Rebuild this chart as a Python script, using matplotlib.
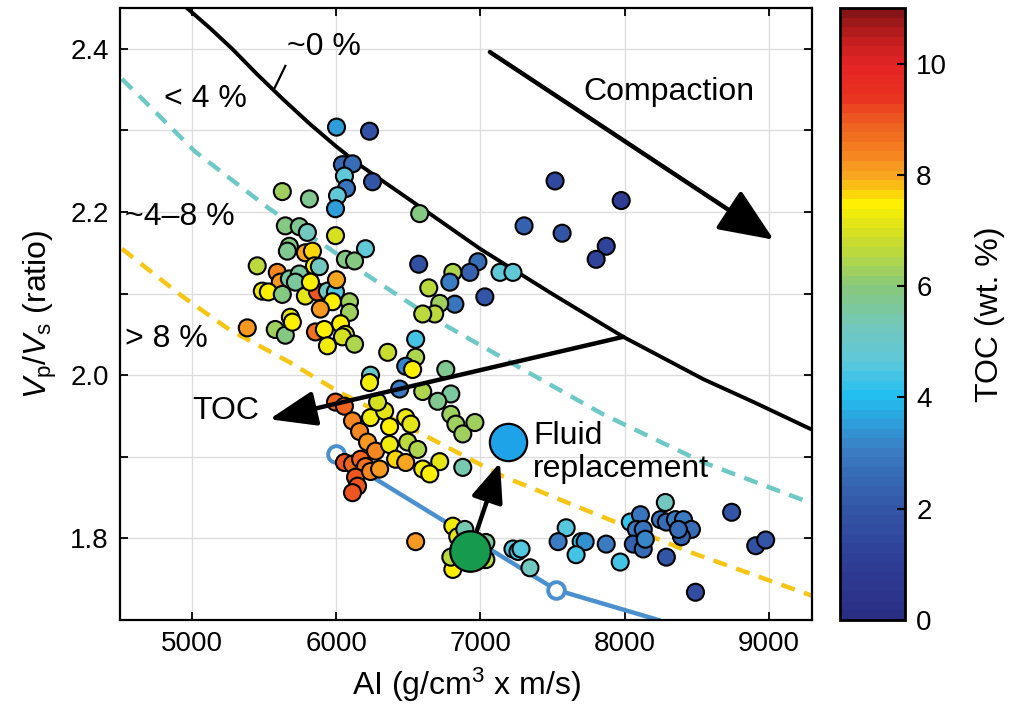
import numpy as np
import matplotlib
matplotlib.use("Agg")
import matplotlib.pyplot as plt
from matplotlib.colors import LinearSegmentedColormap, ListedColormap, Normalize

plt.rcParams["font.family"] = ["Liberation Sans", "DejaVu Sans"]
plt.rcParams["mathtext.fontset"] = "custom"
plt.rcParams["mathtext.rm"] = "Liberation Sans"
plt.rcParams["mathtext.it"] = "Liberation Sans:italic"

# ---- sample measurements: acoustic impedance, Vp/Vs, TOC ----
ai = [6002, 6231, 6043, 6113, 6057, 6071, 6252, 6009, 5995, 5626,
      5814, 5647, 5744, 5800, 5675, 5661, 5995, 6203, 6064, 6127,
      5786, 5835, 5849, 5883, 5452, 5591, 5612, 5675, 5744, 5717,
      5487, 5529, 5626, 5786, 5870, 5939, 5995, 6002, 5821, 5974,
      5890, 6092, 6092, 5383, 5577, 5647, 5682, 5696, 5856, 5918,
      6030, 6064, 6043, 6127, 5939, 6579, 6572, 6983, 6927, 6809,
      7136, 7226, 6788, 6642, 7031, 6823, 6718, 6683, 6600, 6551,
      6357, 6551, 6482, 6530, 6760, 6238, 6231, 6440, 6600, 6795,
      6704, 6795, 6830, 6878, 6962, 5995, 6057, 6113, 6162, 6238,
      6336, 6287, 6370, 6482, 6517, 6217, 6273, 6370, 6496, 6565,
      6718, 6600, 6649, 6878, 6412, 6482, 6057, 6113, 6169, 6203,
      6134, 6148, 6113, 6238, 6301, 6551, 6809, 6843, 6892, 6809,
      6795, 7038, 7038, 7226, 7261, 7282, 7344, 7595, 7539, 7699,
      7727, 7664, 7873, 7970, 8040, 8110, 8082, 8130, 8061, 8130,
      8144, 8283, 8249, 8290, 8353, 8409, 8464, 8395, 8374, 8290,
      8492, 8743, 8910, 8979, 7518, 7977, 7303, 7567, 7873, 7803]
vpvs = [2.304, 2.299, 2.258, 2.259, 2.244, 2.229, 2.237, 2.220, 2.204, 2.225,
        2.216, 2.183, 2.182, 2.175, 2.158, 2.152, 2.171, 2.155, 2.142, 2.140,
        2.150, 2.152, 2.134, 2.133, 2.134, 2.126, 2.114, 2.118, 2.124, 2.114,
        2.103, 2.102, 2.099, 2.097, 2.102, 2.103, 2.102, 2.117, 2.114, 2.090,
        2.081, 2.090, 2.077, 2.058, 2.056, 2.049, 2.071, 2.065, 2.053, 2.056,
        2.063, 2.050, 2.047, 2.038, 2.036, 2.198, 2.136, 2.139, 2.126, 2.126,
        2.126, 2.126, 2.114, 2.107, 2.096, 2.087, 2.088, 2.075, 2.075, 2.044,
        2.028, 2.022, 2.011, 2.007, 2.007, 2.000, 1.991, 1.983, 1.980, 1.977,
        1.968, 1.952, 1.940, 1.928, 1.942, 1.967, 1.962, 1.944, 1.931, 1.948,
        1.956, 1.967, 1.937, 1.948, 1.940, 1.918, 1.907, 1.915, 1.918, 1.909,
        1.894, 1.885, 1.879, 1.887, 1.897, 1.893, 1.893, 1.891, 1.897, 1.888,
        1.875, 1.864, 1.856, 1.882, 1.885, 1.796, 1.815, 1.802, 1.811, 1.762,
        1.777, 1.795, 1.774, 1.787, 1.784, 1.787, 1.764, 1.813, 1.796, 1.796,
        1.796, 1.780, 1.793, 1.771, 1.820, 1.829, 1.811, 1.811, 1.793, 1.787,
        1.799, 1.844, 1.823, 1.820, 1.823, 1.823, 1.811, 1.802, 1.811, 1.777,
        1.734, 1.832, 1.791, 1.798, 2.238, 2.214, 2.183, 2.174, 2.158, 2.142]
toc = [3.6, 1.8, 2.5, 2.7, 4.8, 2.8, 2.0, 4.8, 3.6, 6.2,
       5.7, 6.0, 5.8, 5.2, 6.0, 5.8, 6.9, 4.8, 5.9, 6.0,
       8.0, 7.6, 7.5, 5.3, 6.6, 8.4, 8.2, 5.5, 5.6, 5.6,
       7.3, 7.5, 6.0, 7.2, 9.0, 5.2, 4.5, 8.0, 7.4, 7.4,
       8.1, 6.2, 6.3, 8.1, 6.2, 6.0, 7.2, 7.4, 8.7, 7.4,
       7.4, 7.2, 7.0, 6.5, 7.3, 6.0, 1.8, 2.6, 2.4, 6.5,
       4.8, 4.8, 3.0, 6.6, 1.9, 2.9, 6.3, 6.6, 6.6, 4.3,
       6.8, 6.4, 3.2, 7.4, 5.7, 5.0, 7.3, 3.0, 6.4, 5.6,
       5.7, 6.3, 6.3, 6.2, 6.2, 8.8, 8.8, 8.4, 8.3, 7.3,
       7.2, 7.0, 7.4, 7.3, 7.1, 8.2, 8.3, 7.3, 6.6, 6.5,
       7.1, 7.3, 7.4, 5.4, 7.6, 8.0, 9.0, 8.9, 8.9, 8.6,
       9.0, 9.0, 9.0, 8.4, 8.2, 8.1, 7.3, 7.2, 5.4, 7.4,
       6.6, 5.5, 6.7, 4.6, 4.4, 4.5, 5.2, 4.5, 3.0, 4.2,
       3.3, 4.3, 3.0, 4.3, 4.2, 2.8, 3.0, 2.9, 2.4, 2.6,
       3.2, 5.2, 2.8, 2.6, 3.0, 3.0, 2.7, 2.4, 2.6, 1.9,
       1.7, 1.9, 1.8, 2.0, 1.5, 1.0, 2.3, 2.0, 1.3, 1.3]

# ---- rock-physics template curves ----
toc0_ai = [4951, 5120, 5278, 5450, 5626, 5810, 5995, 6160, 6322, 6600,
           6997, 7504, 7991, 8548, 8896, 9327]
toc0_vpvs = [2.452, 2.426, 2.400, 2.369, 2.339, 2.309, 2.281, 2.258, 2.238, 2.204,
             2.155, 2.099, 2.047, 1.995, 1.967, 1.931]
toc4_ai = [4513, 4652, 5021, 5536, 5953, 6203, 6649, 7296, 7852, 8548, 9313]
toc4_vpvs = [2.363, 2.339, 2.274, 2.204, 2.155, 2.124, 2.072, 2.007, 1.952, 1.893, 1.842]
toc8_ai = [4513, 4930, 5257, 5675, 6023, 6530, 7157, 7713, 8457, 9313]
toc8_vpvs = [2.155, 2.097, 2.056, 2.016, 1.979, 1.934, 1.876, 1.836, 1.783, 1.729]
trend_ai = [5995, 7525, 8235]
trend_vpvs = [1.903, 1.737, 1.700]

# fluid replacement: brine-saturated (green) -> substituted (blue)
fluid_start = (6927, 1.784)
fluid_end = (7191, 1.918)

# ---- colour scale ----
anchors = [(0.0, "#2b2f84"), (1.0, "#2e3e97"), (2.0, "#3358a8"), (3.0, "#3a7cc2"),
           (4.0, "#22bff0"), (4.6, "#5cc8dc"), (5.2, "#72c8c0"), (6.0, "#86c87e"),
           (6.6, "#b8d840"), (7.0, "#d6e020"), (7.5, "#fff000"), (8.0, "#f8a820"),
           (8.5, "#f58020"), (9.0, "#ee6020"), (9.5, "#e83020"), (10.0, "#e62525"),
           (10.5, "#c41e1e"), (11.0, "#881515")]
vmax = 11.0
base = LinearSegmentedColormap.from_list(
    "toc", [(v / vmax, c) for v, c in anchors])
cmap = ListedColormap(base(np.linspace(0, 1, 64)))
norm = Normalize(0, vmax)

fig = plt.figure(figsize=(10.10, 7.19), dpi=100)
ax = fig.add_axes([0.1188, 0.1377, 0.6851, 0.8512])
cax = fig.add_axes([0.8317, 0.1377, 0.0644, 0.8512])

ax.set_xlim(4500, 9300)
ax.set_ylim(1.7, 2.45)
ax.set_xticks([5000, 6000, 7000, 8000, 9000])
yt = [1.7, 1.8, 1.9, 2.0, 2.1, 2.2, 2.3, 2.4]
ax.set_yticks(yt)
ax.set_yticklabels(["" if round(v * 10) % 2 else f"{v:.1f}" for v in yt])
ax.grid(True, color="#dddddd", lw=1.0, zorder=0)
ax.set_axisbelow(True)
ax.tick_params(direction="in", length=6, width=1.3, top=True, right=True,
               labelsize=20, pad=8)
for s in ax.spines.values():
    s.set_linewidth(1.6)

ax.plot(toc0_ai, toc0_vpvs, color="black", lw=2.8, zorder=2,
        solid_joinstyle="round")
ax.plot(toc4_ai, toc4_vpvs, color="#6dc8c6", lw=3.2, ls=(0, (3.2, 2.2)), zorder=2)
ax.plot(toc8_ai, toc8_vpvs, color="#f7c514", lw=3.2, ls=(0, (3.2, 2.2)), zorder=2)
ax.plot(trend_ai, trend_vpvs, color="#4a90cf", lw=3.2, zorder=2)
ax.plot(trend_ai[:2], trend_vpvs[:2], ls="none", marker="o", ms=12,
        mfc="white", mec="#4a90cf", mew=2.8, zorder=3)

ax.scatter(ai, vpvs, c=toc, cmap=cmap, norm=norm, s=150,
           edgecolors="black", linewidths=1.5, zorder=4)

# fluid replacement arrow and end members
ax.annotate("", xy=(7136, 1.893), xytext=fluid_start,
            arrowprops=dict(arrowstyle="-|>,head_length=1.1,head_width=0.45",
                            color="black", lw=3.2, mutation_scale=22,
                            shrinkA=0, shrinkB=0), zorder=5)
ax.scatter([fluid_start[0]], [fluid_start[1]], s=850, c="#169a4e",
           edgecolors="black", linewidths=1.6, zorder=6)
ax.scatter([fluid_end[0]], [fluid_end[1]], s=720, c="#1ea3e8",
           edgecolors="black", linewidths=1.6, zorder=6)

# compaction and TOC trend arrows
ax.annotate("", xy=(9035, 2.166), xytext=(7066, 2.396),
            arrowprops=dict(arrowstyle="-|>,head_length=1.3,head_width=0.55",
                            color="black", lw=3.2, mutation_scale=26,
                            shrinkA=0, shrinkB=0), zorder=5)
ax.annotate("", xy=(5536, 1.946), xytext=(7991, 2.047),
            arrowprops=dict(arrowstyle="-|>,head_length=1.2,head_width=0.45",
                            color="black", lw=3.2, mutation_scale=24,
                            shrinkA=0, shrinkB=0), zorder=5)

# leader for the ~0 % label
ax.plot([5647, 5570], [2.379, 2.351], color="black", lw=1.6, zorder=5)

tkw = dict(fontsize=23, color="black", va="center", ha="left", zorder=7)
ax.text(5661, 2.402, "~0 %", **tkw)
ax.text(4805, 2.339, "< 4 %", **tkw)
ax.text(4532, 2.194, "~4\u20138 %", **tkw)
ax.text(4534, 2.044, "> 8 %", **tkw)
ax.text(5000, 1.956, "TOC", **tkw)
ax.text(7713, 2.347, "Compaction", **tkw)
ax.text(7365, 1.925, "Fluid", **tkw)
ax.text(7365, 1.885, "replacement", **tkw)

ax.set_xlabel("AI (g/cm$^3$ x m/s)", fontsize=23, labelpad=6)
ax.set_ylabel(r"$V_\mathrm{p}/V_\mathrm{s}$ (ratio)", fontsize=23, labelpad=8)

sm = plt.cm.ScalarMappable(cmap=cmap, norm=norm)
cb = fig.colorbar(sm, cax=cax, ticks=[0, 2, 4, 6, 8, 10])
cb.outline.set_linewidth(2)
cax.tick_params(direction="in", length=6, width=1.5, labelsize=20, pad=8)
cb.set_label("TOC (wt. %)", fontsize=23, labelpad=20)

fig.savefig("out.png", dpi=100)
